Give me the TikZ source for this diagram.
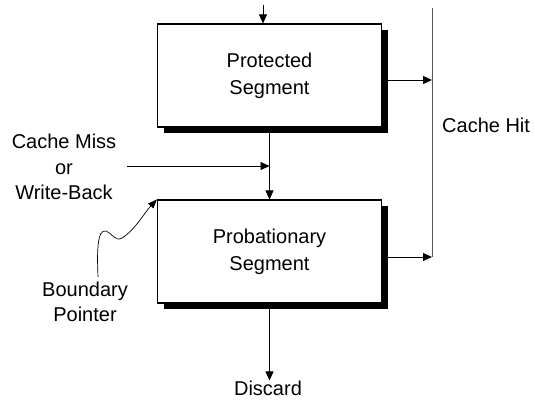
\documentclass[tikz,border=0pt]{standalone}
\usepackage{fontspec}
\setmainfont{Liberation Sans}
\usetikzlibrary{arrows.meta,shadows}
\begin{document}
\begin{tikzpicture}[x=1pt,y=-1pt,
  seg/.style={draw, line width=1.1pt, fill=white, minimum width=224pt,
    minimum height=103pt, align=center, inner sep=0pt,
    font=\fontsize{20}{27}\selectfont,
    drop shadow={shadow xshift=6pt, shadow yshift=-6pt, opacity=1, fill=black}},
  lbl/.style={align=center, inner sep=0pt, font=\fontsize{20}{25.5}\selectfont},
  flow/.style={line width=0.8pt, -{Triangle[length=9pt,width=8pt]}},
  rail/.style={line width=0.6pt, draw=black!65}]
\useasboundingbox (0,0) rectangle (535,405);

% the two segments of the cache
\node[seg] (prot) at (269.5,75.5) {Protected\\Segment};
\node[seg] (prob) at (269.5,251.5) {Probationary\\Segment};

% labels
\node[lbl] (miss) at (64,167) {Cache Miss\\or\\Write-Back};
\node[lbl, anchor=west] (hit) at (442,125) {Cache Hit};
\node[lbl] (bp) at (85,302) {Boundary\\Pointer};
\node[lbl] (discard) at (268,388) {Discard};

% free ends of connectors
\coordinate (in) at (263,5);
\coordinate (railtop) at (432,8);
\coordinate (hitA) at (432,80);
\coordinate (hitB) at (432,257);
\coordinate (missfrom) at (127,166);
\coordinate (wave) at (98,277);

% flows between segments
\draw[flow] (in) -- (in |- prot.north);
\draw[flow] (prot.south) -- (prob.north);
\draw[flow] (missfrom) -- (missfrom -| prot.south);
\draw[flow] (prob.south) -- (prob.south |- discard.north);

% hits go back up the rail
\draw[rail] (railtop) -- (hitB);
\draw[flow] (prot.east |- hitA) -- (hitA);
\draw[flow] (prob.east |- hitB) -- (hitB);

% boundary pointer
\draw[line width=0.7pt, -{Triangle[length=9pt,width=7pt]}]
  (wave) .. controls (97,252) and (97,229) .. (106,231)
  .. controls (112,233) and (115,242) .. (122,238)
  .. controls (135,230) and (145,212) .. (prob.north west);
\end{tikzpicture}
\end{document}
